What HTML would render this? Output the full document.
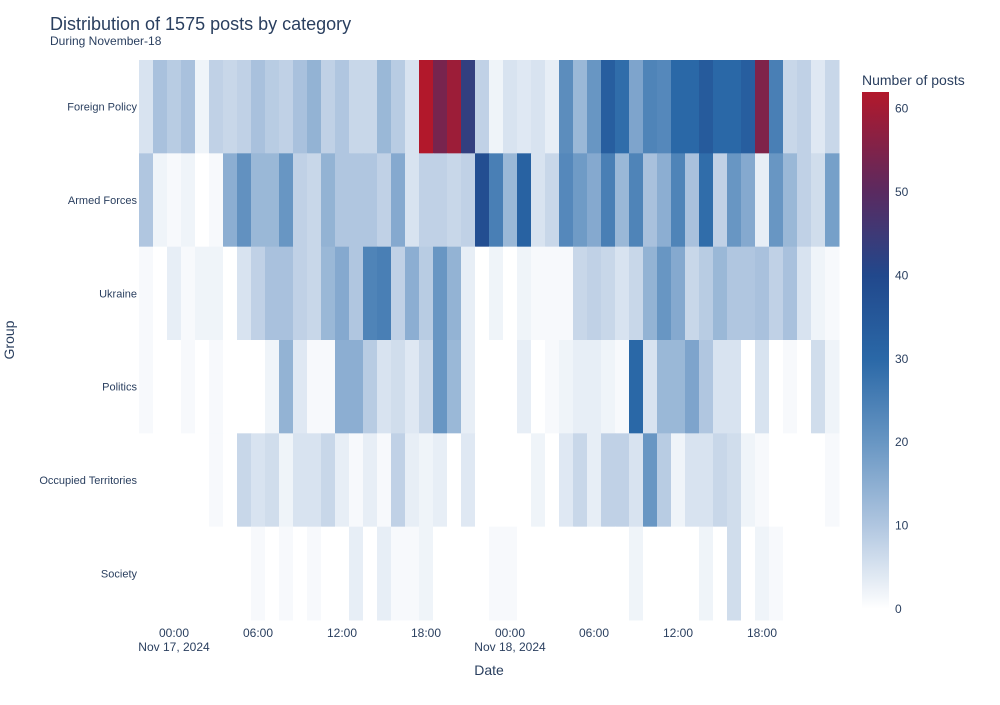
<!DOCTYPE html>
<html><head><meta charset="utf-8"><style>
body{margin:0;background:#fff;font-family:"Liberation Sans",sans-serif;}
svg text{font-family:"Liberation Sans",sans-serif;fill:#2a3f5f;}
</style></head><body>
<svg id="chart" width="1000" height="700" xmlns="http://www.w3.org/2000/svg">
<text x="50" y="30" font-size="18">Distribution of 1575 posts by category</text>
<text x="50" y="45" font-size="12">During November-18</text>
<g id="cells"></g>
<g id="yaxis"></g>
<g id="xaxis"></g>
<text x="0" y="0" font-size="14" text-anchor="middle" transform="translate(14,340) rotate(-90)">Group</text>
<text x="489" y="675" font-size="14" text-anchor="middle">Date</text>
<text x="862" y="85" font-size="14">Number of posts</text>
<defs><linearGradient id="cbg" x1="0" y1="1" x2="0" y2="0"></linearGradient></defs>
<rect id="cbar" x="862" y="92" width="27" height="517" fill="url(#cbg)"/>
<g id="cbticks"></g>
</svg>
<script>
const groups = ["Foreign Policy","Armed Forces","Ukraine","Politics","Occupied Territories","Society"];
const startHour = -2; // Nov 16 22:00
const fpVals = [5,11,9,11,2,8,7,8,11,9,8,11,14,8,10,7,7,13,9,5,62,54,59,43,8,2,5,4,5,3,22,13,20,33,29,17,24,23,30,30,34,30,30,33,55,25,7,8,4,7];
const afVals = [10,2,1,2,0,1,15,21,13,13,20,8,7,14,10,10,10,8,16,5,8,8,7,8,38,25,13,32,5,7,23,19,16,25,13,24,11,15,24,11,29,8,20,16,3,20,13,8,6,18];
const ukVals = [1,0,3,1,2,2,0,5,8,11,11,8,7,13,16,10,24,25,8,15,9,20,14,3,0,2,0,2,1,1,1,7,8,7,5,7,14,20,16,7,9,13,10,10,11,8,11,5,2,1];
const poVals = [1,0,0,1,0,1,0,0,0,2,14,4,1,1,15,15,9,5,6,4,7,20,13,3,0,0,0,3,0,1,2,3,3,2,1,30,5,13,13,17,10,5,5,0,5,0,1,0,6,2];
const otVals = [0,0,0,0,0,1,0,7,5,6,2,5,5,7,3,1,3,1,8,3,2,3,0,4,0,0,0,0,2,0,4,7,3,8,8,5,20,9,2,5,5,7,6,2,1,0,0,0,0,1];
const soVals = [0,0,0,0,0,0,0,0,1,0,1,0,1,0,0,3,0,3,1,1,2,0,0,0,0,1,1,0,0,0,0,0,0,0,0,2,0,0,0,0,2,0,6,0,2,1,0,0,0,0];
const series = [fpVals,afVals,ukVals,poVals,otVals,soVals];
const xTickHours = [0,6,12,18,24,30,36,42];
const xTickLabels = ["00:00","06:00","12:00","18:00","00:00","06:00","12:00","18:00"];
const xTickDates = ["Nov 17, 2024","","","","Nov 18, 2024","","",""];
const cbTicks = [0,10,20,30,40,50,60];
const zmax = 62;

const NS="http://www.w3.org/2000/svg";
const plotT=60, plotB=620, colW=14;
const rowH=(plotB-plotT)/groups.length;
const xOf=h=>174+(h)*colW;
const yOf=i=>plotT+i*rowH;
const stops=[[0,[255,255,255]],[10,[176,198,224]],[20,[104,150,195]],[30,[42,104,167]],[40,[33,72,140]],[50,[90,42,96]],[62,[178,24,43]]];
function color(v){
  for(let i=1;i<stops.length;i++){
    if(v<=stops[i][0]){const a=stops[i-1],b=stops[i];const t=(v-a[0])/(b[0]-a[0]);
      const c=a[1].map((x,k)=>Math.round(x+(b[1][k]-x)*t));return `rgb(${c.join(',')})`;}
  }
  return 'rgb(178,24,43)';
}
const cells=document.getElementById('cells');
series.forEach((vals,r)=>{
  vals.forEach((v,c)=>{
    const h=startHour+c;
    const rect=document.createElementNS(NS,'rect');
    
    
    rect.setAttribute('x',xOf(h)-colW/2);
    rect.setAttribute('y',yOf(r));
    rect.setAttribute('width',colW+0.5);
    rect.setAttribute('height',rowH+0.5);
    rect.setAttribute('fill',color(v));
    cells.appendChild(rect);
  });
});
const ya=document.getElementById('yaxis');
groups.forEach((g,i)=>{
  const t=document.createElementNS(NS,'text');
  
  
  t.setAttribute('x',137);t.setAttribute('y',yOf(i)+rowH/2+4);
  t.setAttribute('text-anchor','end');t.setAttribute('font-size','11');
  t.textContent=g;ya.appendChild(t);
});
const xa=document.getElementById('xaxis');
xTickHours.forEach((h,i)=>{
  const t=document.createElementNS(NS,'text');
  
  
  t.setAttribute('x',xOf(h));t.setAttribute('y',637);
  t.setAttribute('text-anchor','middle');t.setAttribute('font-size','12');
  t.textContent=xTickLabels[i];xa.appendChild(t);
  if(xTickDates[i]){
    const d=document.createElementNS(NS,'text');
    
    
    d.setAttribute('x',xOf(h));d.setAttribute('y',651);
    d.setAttribute('text-anchor','middle');d.setAttribute('font-size','12');
    d.textContent=xTickDates[i];xa.appendChild(d);
  }
});
const grad=document.getElementById('cbg');
stops.forEach(s=>{
  const st=document.createElementNS(NS,'stop');
  st.setAttribute('offset',s[0]/zmax);
  st.setAttribute('stop-color',`rgb(${s[1].join(',')})`);
  grad.appendChild(st);
});
const cbT=92,cbB=609;
const cbY=v=>cbB-(v/zmax)*(cbB-cbT);
const cbg=document.getElementById('cbticks');
cbTicks.forEach(v=>{
  const t=document.createElementNS(NS,'text');
  
  
  t.setAttribute('x',895);t.setAttribute('y',cbY(v)+4);
  t.setAttribute('font-size','12');
  t.textContent=v;cbg.appendChild(t);
});
</script>
</body></html>
